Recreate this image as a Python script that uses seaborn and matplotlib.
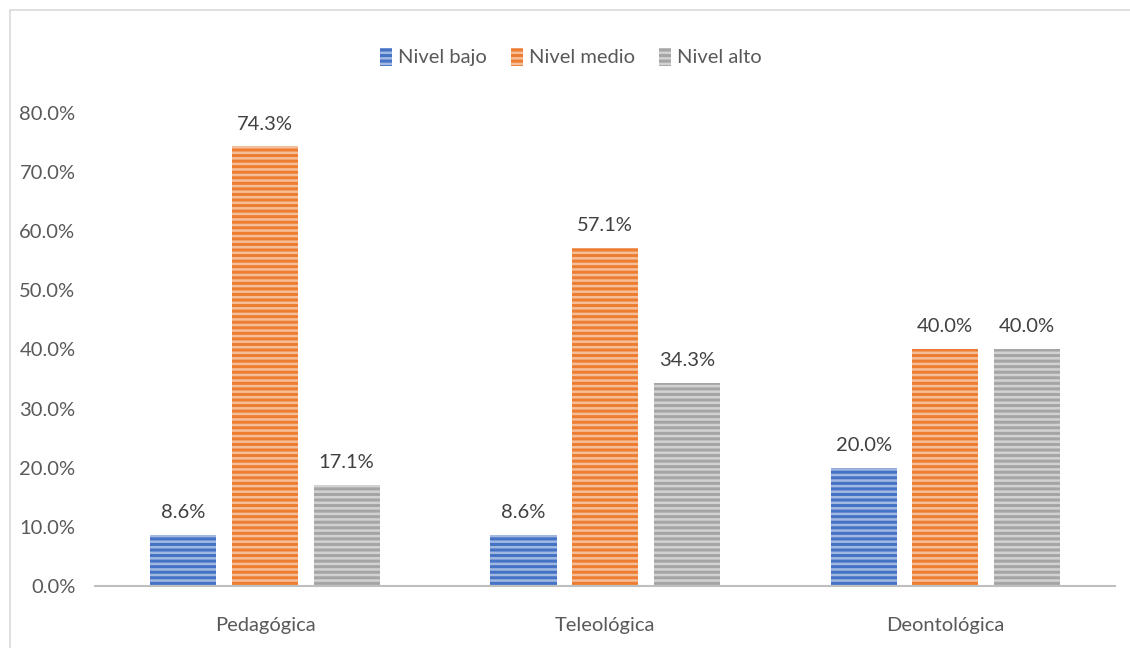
import pandas as pd
import matplotlib.pyplot as plt
import seaborn as sns
from matplotlib.patches import Rectangle

# Data
categorias = ["Pedagógica", "Teleológica", "Deontológica"]
niveles = ["Nivel bajo", "Nivel medio", "Nivel alto"]
nivel_bajo = [8.6, 8.6, 20.0]
nivel_medio = [74.3, 57.1, 40.0]
nivel_alto = [17.1, 34.3, 40.0]
colores = ["#4472C4", "#ED7D31", "#A5A5A5"]

df = pd.DataFrame({
    "Dimensión": categorias * 3,
    "Nivel": [n for n in niveles for _ in categorias],
    "Valor": nivel_bajo + nivel_medio + nivel_alto,
})

sns.set_style("white")
plt.rcParams['font.family'] = ['Lato', 'DejaVu Sans']
plt.rcParams['hatch.linewidth'] = 1.8

fig = plt.figure(figsize=(11.3, 6.48), dpi=100)
ax = fig.add_axes([0.084, 0.0957, 0.903, 0.7303])

sns.barplot(data=df, x="Dimensión", y="Valor", hue="Nivel", palette=colores,
            width=0.72, gap=0.19, ax=ax, legend=False, saturation=1)

# horizontal white stripes, like the original fill pattern
for container, color in zip(ax.containers, colores):
    for bar in container:
        bar.set_hatch("---")
        bar.set_edgecolor((1, 1, 1, 0.5))
        bar.set_linewidth(0)
    ax.bar_label(container, labels=[f"{v.get_height():.1f}%" for v in container],
                 padding=10, fontsize=14.5, color="#404040")

ax.set_ylim(0, 80)
ax.set_yticks(range(0, 81, 10))
ax.set_yticklabels([f"{v:.1f}%" for v in range(0, 81, 10)], fontsize=14.5, color="#595959")
ax.tick_params(axis="x", labelsize=14.5, colors="#595959", pad=22, length=0)
ax.tick_params(axis="y", pad=14, length=0)
ax.set_xlabel("")
ax.set_ylabel("")
for s in ["left", "top", "right"]:
    ax.spines[s].set_visible(False)
ax.spines["bottom"].set_color("#BFBFBF")
ax.spines["bottom"].set_linewidth(1.5)

# Legend
handles = [Rectangle((0, 0), 1, 1, facecolor=c, hatch="---",
                     edgecolor=(1, 1, 1, 0.5), linewidth=0) for c in colores]
fig.legend(handles, niveles, loc="center", bbox_to_anchor=(0.505, 0.912), ncol=3,
           frameon=False, fontsize=14.5, handlelength=0.6, handleheight=1.0,
           handletextpad=0.3, columnspacing=1.2, labelcolor="#595959")

# Outer border
fig.patches.append(Rectangle((10 / 1130, -0.1), 1.2, 1 - 10 / 648 + 0.1,
                             transform=fig.transFigure, fill=False,
                             edgecolor="#D9D9D9", linewidth=1.2))

plt.savefig("out.png", dpi=100)
